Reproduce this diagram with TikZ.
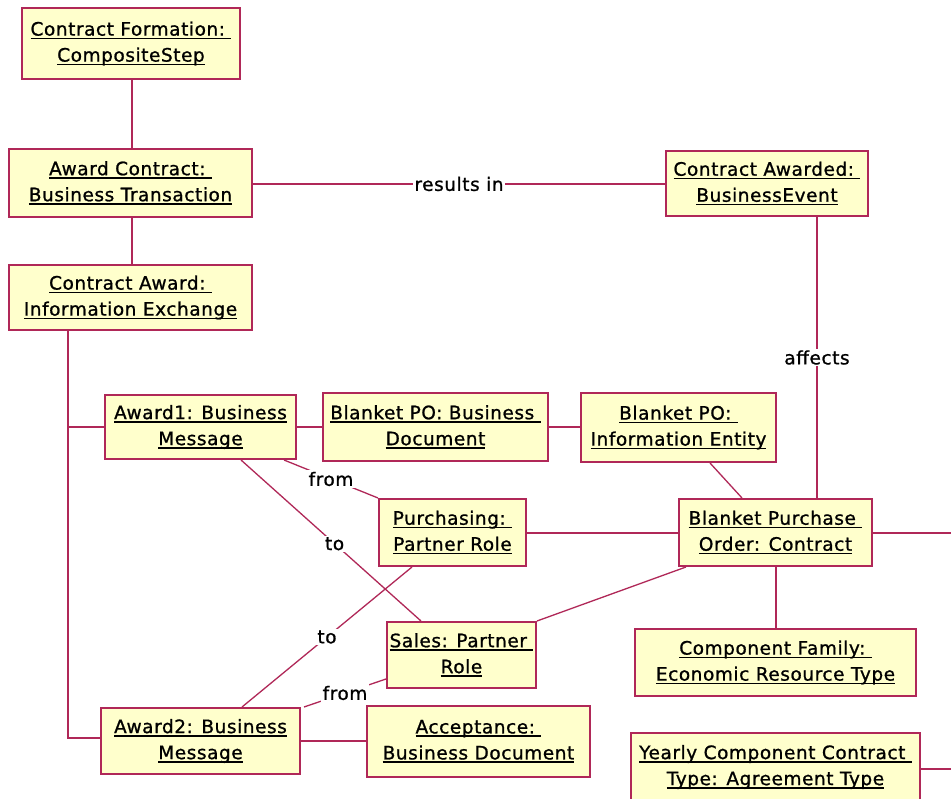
\documentclass[tikz,border=0pt]{standalone}
\usepackage{fontspec}
\setmainfont{DejaVu Sans}
\newfontfamily\umlfont{DejaVu Sans}[LetterSpace=3,FakeBold=1]
\usetikzlibrary{calc}
\definecolor{umlline}{RGB}{176,40,88}
\definecolor{umlfill}{RGB}{255,255,204}
% underlined object name line
\newcommand\ulbox[1]{\setbox0\hbox{#1}\rlap{\rule[-3.6pt]{\wd0}{1.6pt}}\box0}
\begin{document}
\begin{tikzpicture}[x=1pt,y=-1pt,
  obj/.style={draw=umlline, line width=2pt, fill=umlfill, inner sep=0pt,
              align=center, font=\umlfont\fontsize{18.5}{26}\selectfont},
  link/.style={draw=umlline, line width=2pt},
  diag/.style={draw=umlline, line width=1.3pt},
  role/.style={fill=white, inner sep=1.5pt, font=\umlfont\fontsize{18.5}{22}\selectfont}]
\clip (0,0) rectangle (951,799);
\fill[white] (0,0) rectangle (951,799);

% object instances
\node[obj, minimum width=218pt, minimum height=71pt] (cf) at (131,43.5)
  {\ulbox{Contract Formation:\ }\\\ulbox{CompositeStep}};
\node[obj, minimum width=243pt, minimum height=68pt] (ac) at (130.5,183)
  {\ulbox{Award Contract:\ }\\\ulbox{Business Transaction}};
\node[obj, minimum width=243pt, minimum height=65pt] (ca) at (130.5,297.5)
  {\ulbox{Contract Award:\ }\\\ulbox{Information Exchange}};
\node[obj, minimum width=202pt, minimum height=65pt] (cad) at (767,183.5)
  {\ulbox{Contract Awarded:\ }\\\ulbox{BusinessEvent}};
\node[obj, minimum width=191pt, minimum height=64pt] (a1) at (200.5,427)
  {\ulbox{Award1: Business}\\\ulbox{Message}};
\node[obj, minimum width=225pt, minimum height=68pt] (bpobd) at (435.5,427)
  {\ulbox{Blanket PO: Business\ }\\\ulbox{Document}};
\node[obj, minimum width=195pt, minimum height=69pt] (bpoie) at (678.5,427.5)
  {\ulbox{Blanket PO:\ }\\\ulbox{Information Entity}};
\node[obj, minimum width=147pt, minimum height=67pt] (pur) at (452.5,532.5)
  {\ulbox{Purchasing:\ }\\\ulbox{Partner Role}};
\node[obj, minimum width=193pt, minimum height=67pt] (bpo) at (775.5,532.5)
  {\ulbox{Blanket Purchase\ }\\\ulbox{Order: Contract}};
\node[obj, minimum width=149pt, minimum height=66pt] (sal) at (461.5,655)
  {\ulbox{Sales: Partner\ }\\\ulbox{Role}};
\node[obj, minimum width=281pt, minimum height=67pt] (cfam) at (775.5,662.5)
  {\ulbox{Component Family:\ }\\\ulbox{Economic Resource Type}};
\node[obj, minimum width=199pt, minimum height=66pt] (a2) at (200.5,741)
  {\ulbox{Award2: Business}\\\ulbox{Message}};
\node[obj, minimum width=223pt, minimum height=71pt] (acc) at (478.5,741.5)
  {\ulbox{Acceptance:\ }\\\ulbox{Business Document}};
\node[obj, minimum width=289pt, minimum height=68pt] (ycc) at (775.5,767)
  {\ulbox{Yearly Component Contract\ }\\\ulbox{Type: Agreement Type}};

% helper points
\coordinate (trunk) at ([xshift=60pt]ca.south west);
\coordinate (spine) at ([xshift=1pt]cf.south);
\coordinate (evt) at ([xshift=152pt]cad.south west);
\coordinate (edgeA) at (951,533);
\coordinate (edgeB) at (951,769);

% straight links
\draw[link] (spine) -- (spine |- ac.north);
\draw[link] (spine |- ac.south) -- (spine |- ca.north);
\draw[link] (ac.east |- 0,184) -- node[role]{results in} (cad.west |- 0,184);
\draw[link] (evt) -- node[role]{affects} (evt |- bpo.north);
\draw[link] (trunk) |- ([yshift=3pt]a2.west);
\draw[link] (a1.west) -- (a1.west -| trunk);
\draw[link] (a1.east) -- (a1.east -| bpobd.west);
\draw[link] (bpobd.east) -- (bpobd.east -| bpoie.west);
\draw[link] (pur.east |- edgeA) -- (bpo.west |- edgeA);
\draw[link] (bpo.east |- edgeA) -- (edgeA);
\draw[link] ([xshift=0.5pt]bpo.south) -- ([xshift=0.5pt]bpo.south |- cfam.north);
\draw[link] (a2.east) -- (a2.east -| acc.west);
\draw[link] (ycc.east |- edgeB) -- (edgeB);

% slanted links
\draw[diag] ([xshift=130pt]bpoie.south west) -- ([xshift=64pt]bpo.north west);
\draw[diag] ([xshift=-13pt]a1.south east) -- node[role]{from} (pur.north west);
\draw[diag] ([xshift=137pt]a1.south west) -- node[role, pos=0.52]{to} ([xshift=35pt]sal.north west);
\draw[diag] ([xshift=34pt]pur.south west) -- node[role, pos=0.5]{to} ([xshift=142pt]a2.north west);
\draw[diag] ([yshift=10pt]sal.south west) -- node[role]{from} ([xshift=3pt]a2.north east);
\draw[diag] ([xshift=8pt]bpo.south west) -- (sal.north east);
\end{tikzpicture}
\end{document}
